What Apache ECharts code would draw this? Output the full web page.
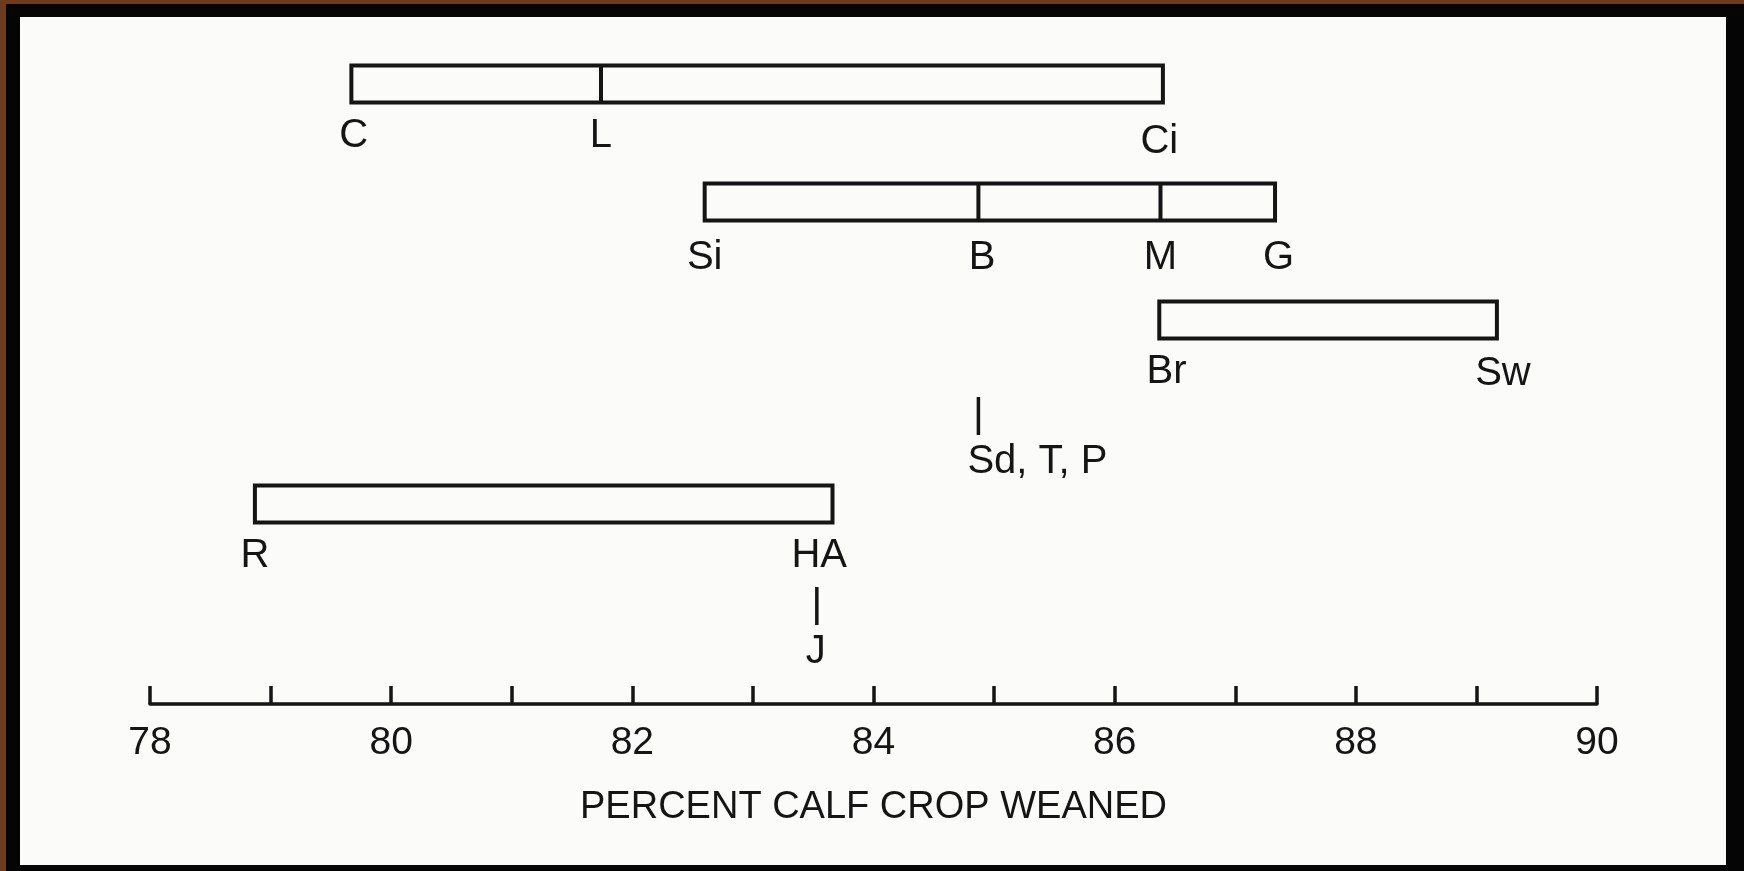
<!DOCTYPE html>
<html>
<head>
<meta charset="utf-8">
<script src="https://cdn.jsdelivr.net/npm/echarts@6/dist/echarts.min.js"></script>
<style>
  body { margin: 0; background: #6e3b21; overflow: hidden; }
  #frame { position: absolute; left: 6px; top: 4px; right: 0; bottom: 0; background: #050505; }
  #paper { position: absolute; left: 20px; top: 17px; width: 1706px; height: 848px; background: #fbfbfa; }
  #chart { position: absolute; left: 0; top: 0; width: 1744px; height: 871px; }
</style>
</head>
<body>
<div id="frame"></div>
<div id="paper"></div>
<div id="chart"></div>
<script>
// axis
var xMin = 78, xMax = 90, tickStep = 1;
var axisTitle = 'PERCENT CALF CROP WEANED';

// ranges drawn as open boxes: start, end, row
var rangeStart = [79.67, 82.60, 86.37, 78.87];
var rangeEnd   = [86.40, 87.33, 89.17, 83.66];
var rangeRow   = [15.5, 12.55, 9.6, 5.0];

// breeds falling inside a box (divider lines)
var splitValue = [81.74, 84.87, 86.38];
var splitRow   = [15.5, 12.55, 12.55];

// breed labels under the boxes
var breedName  = ['C', 'L', 'Ci', 'Si', 'B', 'M', 'G', 'Br', 'Sw', 'R', 'HA'];
var breedValue = [79.69, 81.74, 86.37, 82.60, 84.90, 86.38, 87.36, 86.43, 89.22, 78.87, 83.55];
var breedRow   = [15.5, 15.5, 15.35, 12.45, 12.45, 12.45, 12.45, 9.6, 9.55, 5.0, 5.0];

// single values marked with a tick
var pointName  = ['Sd, T, P', 'J'];
var pointValue = [84.87, 83.53];
var pointRow   = [7.2, 2.45];

var ink = '#151515';
var family = '"Liberation Sans", Arial, sans-serif';
var font = '40px ' + family;
var boxH = 37;

var chart = echarts.init(document.getElementById('chart'));

var option = {
    backgroundColor: 'transparent',
    animation: false,
    grid: { left: 150, right: 147, top: 64, bottom: 167 },
    xAxis: {
        type: 'value',
        min: xMin,
        max: xMax,
        interval: tickStep,
        axisLine: { show: true, onZero: false, lineStyle: { color: ink, width: 3.5 } },
        axisTick: { show: true, inside: true, length: 18, lineStyle: { color: ink, width: 3.5 } },
        axisLabel: {
            margin: 20,
            color: ink,
            fontSize: 39,
            fontFamily: family,
            formatter: function (v) { return v % 2 === 0 ? String(v) : ''; }
        },
        splitLine: { show: false },
        name: axisTitle,
        nameLocation: 'middle',
        nameGap: 85,
        nameTextStyle: { color: ink, fontSize: 38, fontFamily: family }
    },
    yAxis: { type: 'value', min: 0, max: 16, show: false },
    series: [{
        // boxes
        type: 'custom',
        clip: false,
        data: rangeStart.map(function (s, i) { return [s, rangeEnd[i], rangeRow[i]]; }),
        renderItem: function (params, api) {
            var a = api.coord([api.value(0), api.value(2)]);
            var b = api.coord([api.value(1), api.value(2)]);
            return {
                type: 'rect',
                shape: { x: a[0], y: a[1] - boxH / 2, width: b[0] - a[0], height: boxH },
                style: { fill: 'none', stroke: ink, lineWidth: 4 }
            };
        }
    }, {
        // dividers inside boxes
        type: 'custom',
        clip: false,
        data: splitValue.map(function (v, i) { return [v, splitRow[i]]; }),
        renderItem: function (params, api) {
            var p = api.coord([api.value(0), api.value(1)]);
            return {
                type: 'line',
                shape: { x1: p[0], y1: p[1] - boxH / 2, x2: p[0], y2: p[1] + boxH / 2 },
                style: { stroke: ink, lineWidth: 4 }
            };
        }
    }, {
        // labels under boxes
        type: 'custom',
        clip: false,
        data: breedValue.map(function (v, i) { return [v, breedRow[i]]; }),
        renderItem: function (params, api) {
            var p = api.coord([api.value(0), api.value(1)]);
            return {
                type: 'text',
                x: p[0],
                y: p[1] + 52,
                style: {
                    text: breedName[params.dataIndex],
                    align: 'center',
                    verticalAlign: 'middle',
                    font: font,
                    fill: ink
                }
            };
        }
    }, {
        // single value ticks with their labels
        type: 'custom',
        clip: false,
        data: pointValue.map(function (v, i) { return [v, pointRow[i]]; }),
        renderItem: function (params, api) {
            var p = api.coord([api.value(0), api.value(1)]);
            return {
                type: 'group',
                children: [{
                    type: 'line',
                    shape: { x1: p[0], y1: p[1] - 19, x2: p[0], y2: p[1] + 19 },
                    style: { stroke: ink, lineWidth: 3.5 }
                }, {
                    type: 'text',
                    x: p[0] - 11,
                    y: p[1] + 46,
                    style: {
                        text: pointName[params.dataIndex],
                        align: 'left',
                        verticalAlign: 'middle',
                        font: font,
                        fill: ink
                    }
                }]
            };
        }
    }]
};

chart.setOption(option);
window.addEventListener('resize', function () {
    chart.resize();
});
</script>
</body>
</html>
